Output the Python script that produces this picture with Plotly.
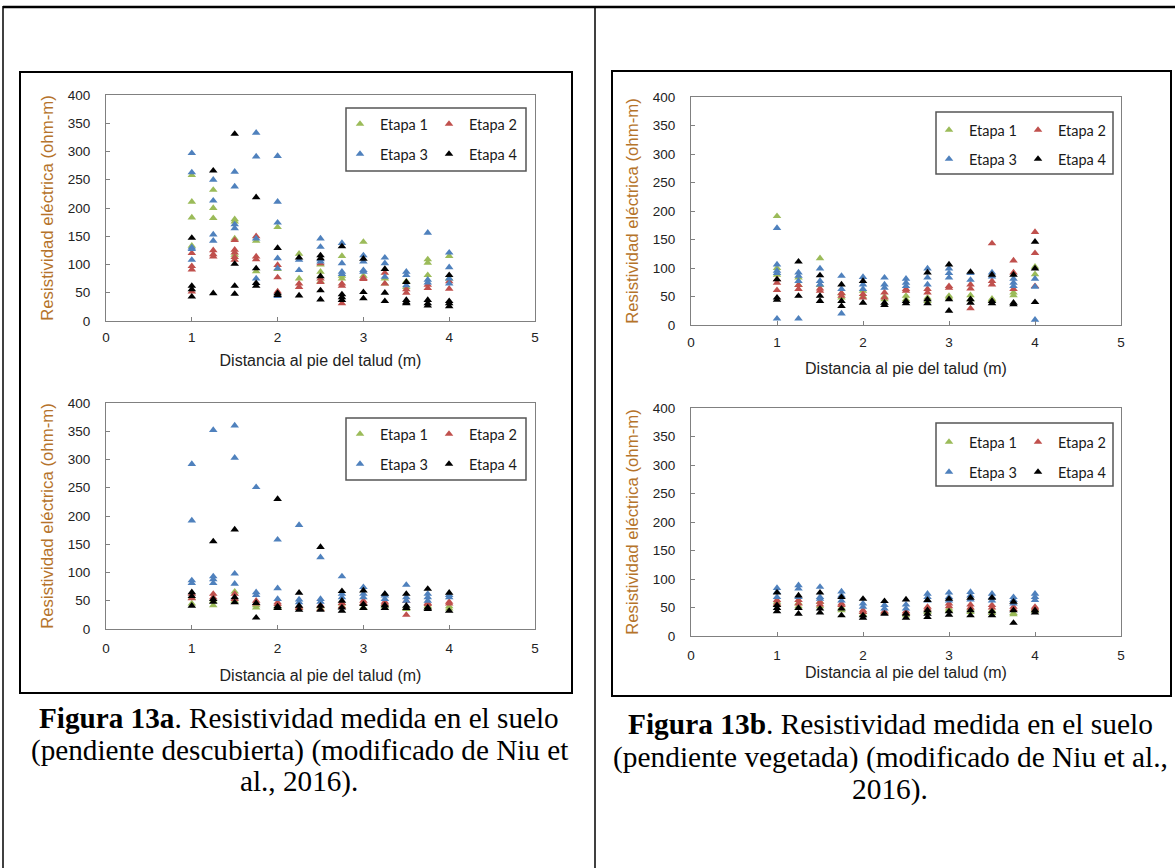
import plotly.graph_objects as go

W, H = 1175, 868

# ---------------- DATA ----------------
x_positions = [1, 1.25, 1.5, 1.75, 2, 2.25, 2.5, 2.75, 3, 3.25, 3.5, 3.75, 4]
series_names = ["Etapa 1", "Etapa 2", "Etapa 3", "Etapa 4"]
series_colors = ["#9BBB59", "#C0504D", "#4F81BD", "#000000"]

x_ticks = [0, 1, 2, 3, 4, 5]
y_ticks = [0, 50, 100, 150, 200, 250, 300, 350, 400]

# Figura 13a - top panel (values per x position)
a_top_etapa1 = [[258, 211, 183, 133], [232, 200, 182], [180, 176, 146, 117], [142, 88], [166, 92], [119, 75],
                [100, 87, 70], [115, 80, 75], [140, 80], [75, 66], [70, 60], [109, 103, 81], [115, 75]]
a_top_etapa2 = [[120, 97, 91, 52], [125, 118, 114], [143, 126, 121, 113, 108], [150, 114, 109], [99, 77, 52],
                [66, 60], [102, 75, 69], [66, 62, 31], [74, 76], [85, 66], [56, 50], [64, 58], [70, 57]]
a_top_etapa3 = [[297, 263, 130, 127, 108], [250, 213, 153, 142], [264, 238, 171, 164], [333, 291, 146, 75],
                [292, 211, 174, 111, 93, 44], [108, 90], [146, 131, 109, 105], [138, 102, 87, 83],
                [116, 105, 90, 87], [112, 102, 78], [87, 81, 63], [156, 73, 68], [121, 95, 75, 66]]
a_top_etapa4 = [[147, 62, 56, 43], [266, 49], [331, 101, 62, 48], [219, 93, 67, 62], [129, 49, 46], [112, 45],
                [116, 111, 79, 54, 38], [132, 47, 42, 37], [110, 51, 40], [92, 50, 35], [69, 37, 33, 31],
                [37, 31, 27], [81, 35, 31, 26]]

# Figura 13a - bottom panel
a_bot_etapa1 = [[55, 45], [50, 42], [66, 50], [42, 38], [40, 37], [38], [40, 36], [45, 40], [45, 38], [44, 40],
                [38, 35], [41, 38], [40, 36]]
a_bot_etapa2 = [[62, 54], [62, 56], [62, 53], [50, 45], [44, 47], [40, 37], [42, 35], [46, 40], [50, 46], [48, 45],
                [50, 25], [46, 44], [48, 45]]
a_bot_etapa3 = [[292, 192, 86, 81], [352, 93, 88, 81], [360, 303, 98, 80], [251, 65, 60], [158, 72, 53],
                [184, 52, 47], [127, 53, 48], [93, 62, 56], [74, 62, 56], [62, 59, 53], [78, 56, 50],
                [62, 56, 50], [60, 56]]
a_bot_etapa4 = [[65, 58, 41], [155, 53, 48], [176, 56, 47], [46, 20], [230, 40, 37], [64, 41, 34], [145, 41, 34],
                [67, 50, 38, 32], [68, 44, 37], [62, 42, 37], [62, 41, 37], [71, 38, 35], [64, 32]]

# Figura 13b - top panel
b_top_etapa1 = [[191, 100, 88], [83, 70], [117, 70], [55, 48], [60, 50], [45, 50], [51, 45], [48, 42], [51, 48],
                [52, 45], [46, 44], [57, 52], [102, 89]]
b_top_etapa2 = [[80, 74, 61], [70, 63], [64, 60], [56, 51], [54, 48], [57, 48], [63, 60], [63, 57], [68, 65],
                [71, 64, 29], [143, 77, 71], [113, 92, 63], [163, 126, 68]]
b_top_etapa3 = [[170, 106, 95, 91, 11], [92, 86, 77, 11], [99, 77, 71], [86, 63, 20], [84, 71, 63], [83, 71, 65],
                [81, 74, 68], [99, 83, 71], [99, 91, 83], [91, 79], [92, 85], [81, 74, 68], [81, 67, 9]]
b_top_etapa4 = [[80, 48, 44], [111, 51], [87, 51, 42], [71, 42, 33], [77, 39], [39, 35], [42, 38], [92, 45, 38],
                [106, 45, 25], [93, 45, 39], [88, 42, 38], [88, 39, 36], [146, 99, 40]]

# Figura 13b - bottom panel
b_bot_etapa1 = [[60, 55], [58, 52], [60, 52], [50, 45], [42, 38], [42], [40, 36], [45, 42], [48, 45], [48, 42],
                [45, 40], [40, 38], [48, 44]]
b_bot_etapa2 = [[63, 57], [63, 57], [60, 55], [57, 54], [45, 42], [43, 40], [43, 40], [51, 48], [57, 52], [55, 50],
                [54, 50], [51, 47], [51, 48]]
b_bot_etapa3 = [[84, 77, 68], [89, 83, 68], [86, 68, 65], [78, 71, 62], [57, 51], [54, 48], [55, 48], [74, 68, 62],
                [76, 68, 62], [77, 71, 64], [74, 68, 62], [68, 63, 57], [74, 68, 63]]
b_bot_etapa4 = [[76, 54, 49, 43], [71, 49, 39], [76, 48, 41], [68, 48, 36], [65, 36, 32], [61, 39], [64, 39, 32],
                [63, 45, 39, 33], [65, 43, 37], [67, 45, 36], [67, 43, 36], [60, 45, 23], [45, 41]]

x_title = "Distancia al pie del talud (m)"
y_title = "Resistividad eléctrica (ohm-m)"
caption_a = ["<b>Figura 13a</b>. Resistividad medida en el suelo",
             "(pendiente descubierta) (modificado de Niu et",
             "al., 2016)."]
caption_b = ["<b>Figura 13b</b>. Resistividad medida en el suelo",
             "(pendiente vegetada) (modificado de Niu et al.,",
             "2016)."]

panels = [
    [a_top_etapa1, a_top_etapa2, a_top_etapa3, a_top_etapa4],
    [a_bot_etapa1, a_bot_etapa2, a_bot_etapa3, a_bot_etapa4],
    [b_top_etapa1, b_top_etapa2, b_top_etapa3, b_top_etapa4],
    [b_bot_etapa1, b_bot_etapa2, b_bot_etapa3, b_bot_etapa4],
]

# ---------------- LAYOUT GEOMETRY (pixels) ----------------
def fx(p):
    return p / W


def fy(p):
    return 1 - p / H


# plot areas: (left, right, top, bottom) in px
plot_boxes = [
    (106, 535, 95, 321),
    (106, 535, 403, 629),
    (691, 1121, 97, 325),
    (691, 1121, 408, 636),
]
x_tick_standoff = [4, 7, 5, 7]
x_title_standoff = [10, 14, 13, 4]
legend_rows = [  # (legend left px, row1 y, row2 y)
    (340, 124, 154),
    (340, 434, 464),
    (929, 130, 159),
    (929, 442, 472),
]
legend_boxes = [
    (346, 526, 108, 171),
    (346, 526, 418, 480),
    (936, 1113, 112, 174),
    (936, 1113, 423, 486),
]

fig = go.Figure()

for p, series in enumerate(panels):
    ax = "" if p == 0 else str(p + 1)
    for s, vals in enumerate(series):
        xs, ys = [], []
        for xv, group in zip(x_positions, vals):
            for v in group:
                xs.append(xv)
                ys.append(v)
        leg_idx = 2 * p + (0 if s < 2 else 1)
        leg_name = "legend" if leg_idx == 0 else "legend" + str(leg_idx + 1)
        fig.add_trace(go.Scatter(
            x=xs, y=ys, mode="markers", name=series_names[s],
            marker=dict(symbol="triangle-up", size=7.5, color=series_colors[s], line=dict(width=0)),
            xaxis="x" + ax, yaxis="y" + ax, legend=leg_name, showlegend=True,
        ))

layout = dict(
    width=W, height=H, margin=dict(l=0, r=0, t=0, b=0, autoexpand=False),
    paper_bgcolor="white", plot_bgcolor="white",
    font=dict(family="Liberation Sans, Arial", color="#222"),
)

for p, (l, r, t, b) in enumerate(plot_boxes):
    ax = "" if p == 0 else str(p + 1)
    layout["xaxis" + ax] = dict(
        domain=[fx(l), fx(r)], range=[0, 5], tickvals=x_ticks, anchor="y" + ax, automargin=False,
        showgrid=False, zeroline=False, showline=True, linecolor="#808080", linewidth=1.2, mirror=True,
        ticks="inside", ticklen=4, tickcolor="#808080", ticklabelstandoff=x_tick_standoff[p],
        tickfont=dict(size=13.5, color="#222", family="Liberation Sans, Arial"),
        title=dict(text=x_title, standoff=x_title_standoff[p],
                   font=dict(size=16, color="#222", family="Liberation Sans, Arial")),
        fixedrange=True,
    )
    layout["yaxis" + ax] = dict(
        domain=[fy(b), fy(t)], range=[0, 400], tickvals=y_ticks, anchor="x" + ax, automargin=False,
        showgrid=False, zeroline=False, showline=True, linecolor="#808080", linewidth=1.2, mirror=True,
        ticks="inside", ticklen=4, tickcolor="#808080", ticklabelstandoff=12,
        tickfont=dict(size=13.5, color="#222", family="Liberation Sans, Arial"),
        title=dict(text=y_title, standoff=9,
                   font=dict(size=16.8, color="#B5732A", family="Liberation Sans, Arial")),
        fixedrange=True,
    )

for p, (lx, r1, r2) in enumerate(legend_rows):
    for k, ry in enumerate((r1, r2)):
        idx = 2 * p + k
        name = "legend" if idx == 0 else "legend" + str(idx + 1)
        layout[name] = dict(
            orientation="h", x=fx(lx), y=fy(ry), xanchor="left", yanchor="middle",
            bgcolor="rgba(0,0,0,0)", borderwidth=0,
            font=dict(family="Lato, Liberation Sans", size=14.5, color="#1a1a1a"),
            entrywidth=44, entrywidthmode="pixels", itemwidth=30,
        )

fig.update_layout(**layout)

shapes = []
# table lines
shapes.append(dict(type="line", xref="paper", yref="paper", x0=fx(3), x1=fx(1175), y0=fy(7), y1=fy(7),
                   line=dict(color="black", width=2.5)))
shapes.append(dict(type="line", xref="paper", yref="paper", x0=fx(3), x1=fx(3), y0=fy(6), y1=fy(868),
                   line=dict(color="black", width=1.5)))
shapes.append(dict(type="line", xref="paper", yref="paper", x0=fx(595), x1=fx(595), y0=fy(6), y1=fy(868),
                   line=dict(color="black", width=1.5)))
# chart frames
for (l, r, t, b) in [(20, 572, 72, 693), (612, 1171, 71, 696)]:
    shapes.append(dict(type="rect", xref="paper", yref="paper", x0=fx(l), x1=fx(r), y0=fy(b), y1=fy(t),
                       line=dict(color="black", width=2)))
# legend boxes
for (l, r, t, b) in legend_boxes:
    shapes.append(dict(type="rect", xref="paper", yref="paper", x0=fx(l), x1=fx(r), y0=fy(b), y1=fy(t),
                       line=dict(color="#555555", width=1.5)))

annotations = []
for lines, cx, ys, fs in [(caption_a, 299, (718, 750, 781), 29.2), (caption_b, 890, (724, 757, 789), 29.4)]:
    for txt, yy in zip(lines, ys):
        annotations.append(dict(text=txt, x=fx(cx), y=fy(yy), xref="paper", yref="paper",
                                xanchor="center", yanchor="middle", showarrow=False,
                                font=dict(family="Liberation Serif, Times New Roman", size=fs, color="black")))

fig.update_layout(shapes=shapes, annotations=annotations)

fig.write_html("out.html", config={"displayModeBar": False},
               post_script="document.body.style.margin='0px'; document.body.style.overflow='hidden';")
